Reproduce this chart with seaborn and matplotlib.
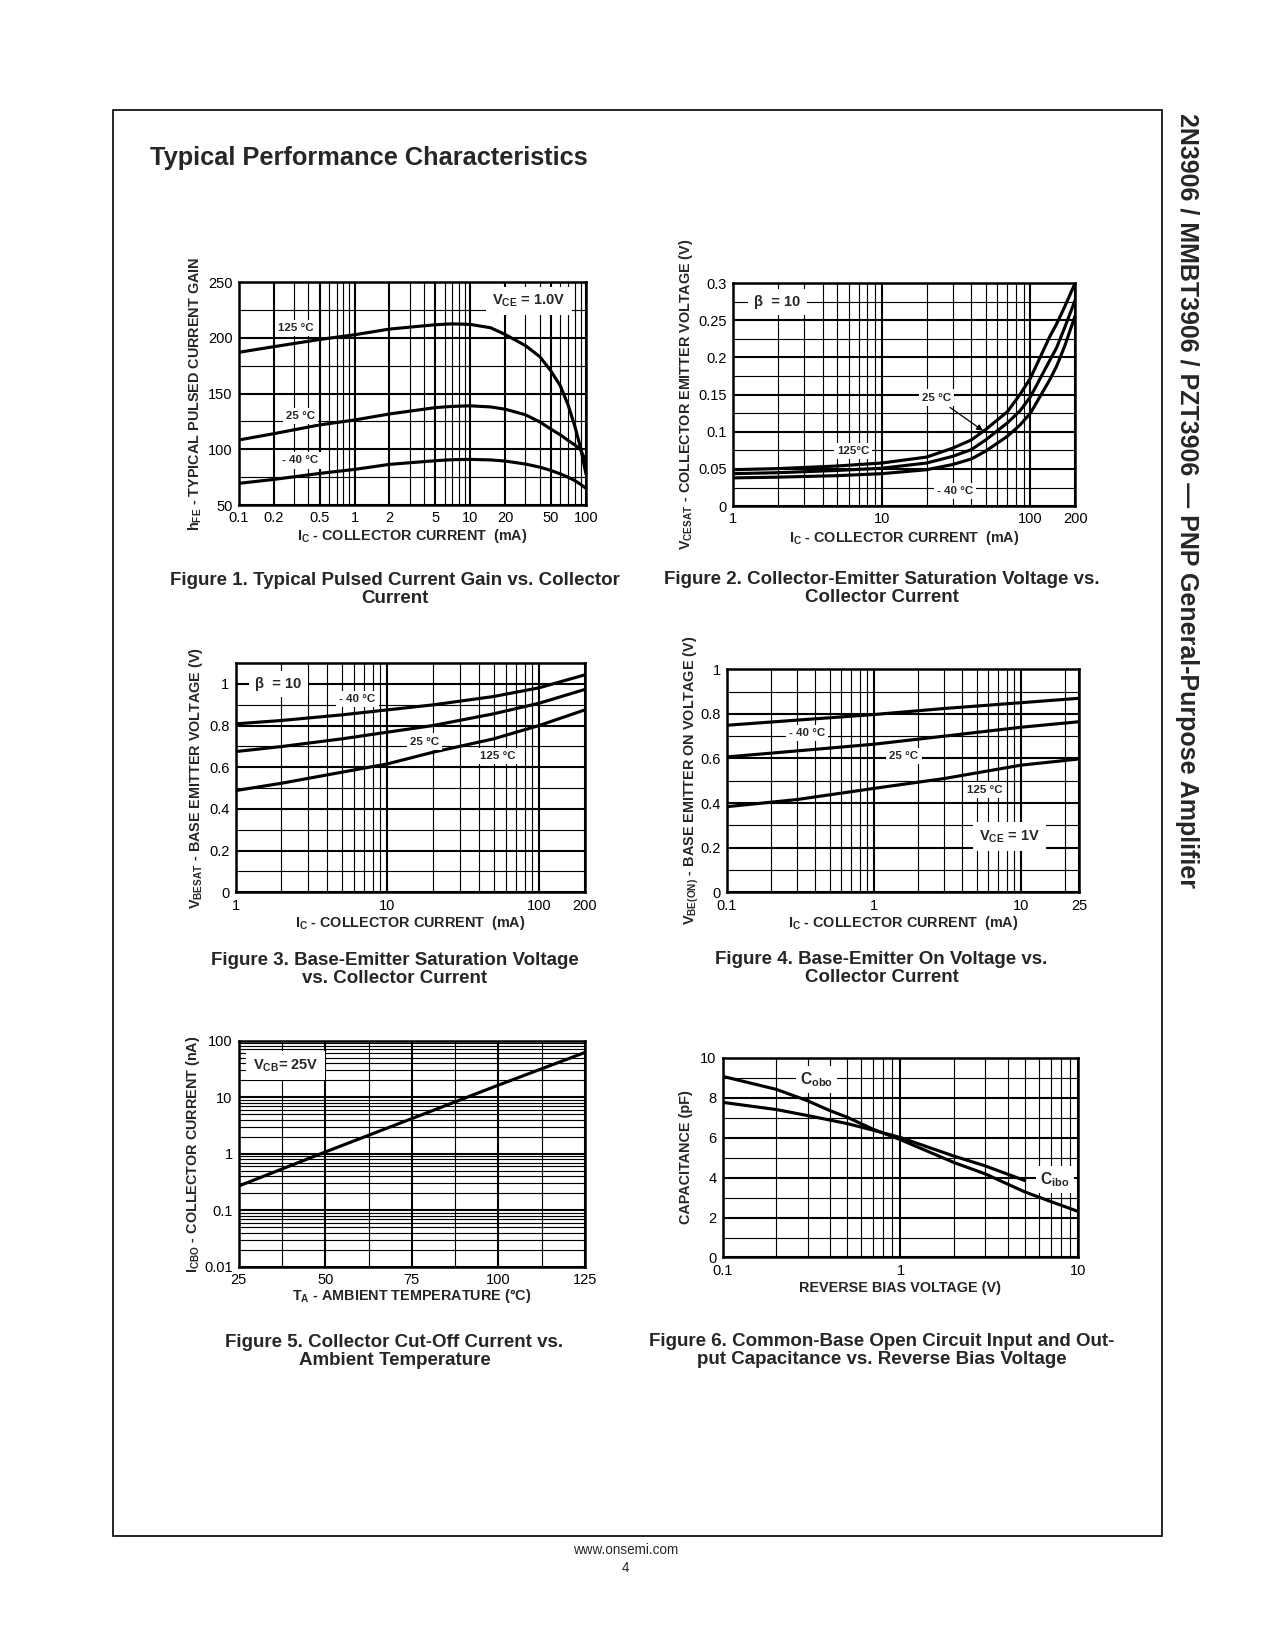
import matplotlib
matplotlib.use('Agg')
import matplotlib.pyplot as plt
import matplotlib.ticker as mticker
import seaborn as sns
import numpy as np

sns.set_style('white')
plt.rcParams['font.family'] = ['Liberation Sans', 'DejaVu Sans']
plt.rcParams['mathtext.fontset'] = 'custom'
plt.rcParams['mathtext.rm'] = 'Liberation Sans:bold'
plt.rcParams['mathtext.bf'] = 'Liberation Sans:bold'
plt.rcParams['mathtext.it'] = 'Liberation Sans:bold'

# ---- data ----
# Figure 1: hFE vs Ic
f1_ic = [0.1, 0.2, 0.5, 1, 2, 5, 7, 10, 15, 20, 30, 40, 50, 60, 70, 80, 90, 100]
f1_125 = [187, 192, 198.5, 202.7, 207.8, 211.7, 212.5, 212, 209, 203, 193, 183, 170, 157, 140, 121, 101, 78]
f1_25 = [108.4, 114, 121.9, 126.3, 131.7, 137.4, 138.5, 139, 138, 136, 131, 124.5, 118, 113, 108, 104, 99.5, 89]
f1_m40 = [69.5, 73, 78.4, 82, 86.5, 89.8, 90.7, 91, 90.5, 89.5, 86.8, 84, 81, 78, 75, 72, 68.6, 65]

# Figure 2: VCEsat vs Ic
f2_ic = [1, 2, 5, 10, 20, 30, 40, 50, 70, 85, 100, 135, 150, 170, 200]
f2_125 = [0.049, 0.0505, 0.054, 0.058, 0.066, 0.078, 0.089, 0.103, 0.127, 0.15, 0.172, 0.228, 0.245, 0.268, 0.30]
f2_25 = [0.0437, 0.045, 0.048, 0.051, 0.058, 0.067, 0.076, 0.089, 0.112, 0.128, 0.147, 0.196, 0.213, 0.24, 0.277]
f2_m40 = [0.038, 0.039, 0.041, 0.0437, 0.049, 0.056, 0.0634, 0.074, 0.094, 0.109, 0.125, 0.17, 0.188, 0.215, 0.256]

# Figure 3: VBEsat vs Ic
f3_ic = [1, 2, 5, 10, 20, 50, 100, 200]
f3_m40 = [0.808, 0.824, 0.851, 0.875, 0.899, 0.939, 0.981, 1.043]
f3_25 = [0.675, 0.699, 0.736, 0.768, 0.80, 0.856, 0.907, 0.973]
f3_125 = [0.488, 0.523, 0.576, 0.616, 0.672, 0.736, 0.80, 0.875]

# Figure 4: VBE(on) vs Ic
f4_ic = [0.1, 0.3, 1, 3, 10, 25]
f4_m40 = [0.749, 0.772, 0.797, 0.824, 0.85, 0.87]
f4_25 = [0.607, 0.634, 0.664, 0.70, 0.74, 0.765]
f4_125 = [0.384, 0.416, 0.466, 0.51, 0.57, 0.598]

# Figure 5: ICBO vs TA
f5_ta = [25, 50, 75, 100, 125]
f5_icbo = [0.27, 1.08, 4.2, 16.4, 62]

# Figure 6: capacitance vs reverse bias
f6_v_obo = [0.1, 0.2, 0.3, 0.4, 0.5, 0.7, 1, 2, 3, 5, 7, 10]
f6_cobo = [9.06, 8.41, 7.84, 7.35, 7.02, 6.42, 5.89, 4.75, 4.18, 3.28, 2.8, 2.3]
f6_v_ibo = [0.1, 0.2, 0.3, 0.5, 0.7, 1, 2, 3, 5]
f6_cibo = [7.76, 7.4, 7.1, 6.7, 6.37, 6.0, 5.07, 4.58, 3.85]

# ---- page layout (coordinates measured on the page) ----
W, H = 1212.0, 1568.0


def box(l, t, r, b):
    return [l / W, 1 - b / H, (r - l) / W, (b - t) / H]


def fx(px):
    return px / W


def fy(py):
    return 1 - py / H


fig = plt.figure(figsize=(8.5, 11), dpi=150, facecolor='white')

# page frame
fig.add_artist(plt.Rectangle((fx(107), fy(1460)), fx(1105) - fx(107), fy(105) - fy(1460),
                             transform=fig.transFigure, fill=False, edgecolor='black', linewidth=0.8))

fig.text(fx(143), fy(150), 'Typical Performance Characteristics', fontsize=12.2,
         fontweight='bold', ha='left', va='center')
fig.text(fx(1128), fy(107), '2N3906 / MMBT3906 / PZT3906 \u2014 PNP General-Purpose Amplifier',
         fontsize=12, fontweight='bold', rotation=270, ha='center', va='top')
fig.text(fx(595), fy(1473), 'www.onsemi.com', fontsize=6.5, ha='center', va='center')
fig.text(fx(595), fy(1490), '4', fontsize=6.5, ha='center', va='center')

LBL = dict(fontsize=5.5, fontweight='bold', ha='center', va='center',
           bbox=dict(facecolor='white', edgecolor='none', pad=1.5))
BIG = dict(fontsize=7, fontweight='bold', ha='center', va='center',
           bbox=dict(facecolor='white', edgecolor='none', pad=3))
CAP = dict(fontsize=7.5, fontweight='bold', ha='center', va='center',
           bbox=dict(facecolor='white', edgecolor='none', pad=2))


def setup(ax, xlim, ylim, xticks, xlabels, yticks, ylabels, yminor,
          xlog=True, ylog=False, xminor=None):
    if xlog:
        ax.set_xscale('log')
    if ylog:
        ax.set_yscale('log')
    ax.set_xlim(*xlim)
    ax.set_ylim(*ylim)
    ax.xaxis.set_major_locator(mticker.FixedLocator(xticks))
    ax.xaxis.set_major_formatter(mticker.FixedFormatter(xlabels))
    if xlog:
        ax.xaxis.set_minor_locator(mticker.LogLocator(base=10, subs=np.arange(2, 10), numticks=20))
    else:
        ax.xaxis.set_minor_locator(mticker.FixedLocator(xminor))
    ax.xaxis.set_minor_formatter(mticker.NullFormatter())
    ax.yaxis.set_major_locator(mticker.FixedLocator(yticks))
    ax.yaxis.set_major_formatter(mticker.FixedFormatter(ylabels))
    if ylog:
        ax.yaxis.set_minor_locator(mticker.LogLocator(base=10, subs=np.arange(2, 10), numticks=20))
    else:
        ax.yaxis.set_minor_locator(mticker.FixedLocator(yminor))
    ax.yaxis.set_minor_formatter(mticker.NullFormatter())
    ax.grid(True, which='major', color='black', linewidth=1.0)
    ax.grid(True, which='minor', color='black', linewidth=0.55)
    ax.tick_params(which='both', length=0, labelsize=7, pad=3, colors='black')
    for s in ax.spines.values():
        s.set_visible(True)
        s.set_color('black')
        s.set_linewidth(1.2)


def labels(ax, xl, yl, xoff, yoff, axw, axh):
    ax.set_xlabel(xl, fontsize=6.9, fontweight='bold')
    ax.set_ylabel(yl, fontsize=6.9, fontweight='bold')
    ax.xaxis.set_label_coords(0.5, -xoff / axh)
    ax.xaxis.label.set_verticalalignment('center')
    ax.yaxis.set_label_coords(-yoff / axw, 0.5)
    ax.yaxis.label.set_verticalalignment('center')


def curve(ax, x, y):
    sns.lineplot(x=x, y=y, ax=ax, color='black', linewidth=1.5, sort=False)


def caption(x, y, l1, l2):
    fig.text(fx(x), fy(y), l1, fontsize=9, fontweight='bold', ha='center', va='center')
    fig.text(fx(x), fy(y + 17), l2, fontsize=9, fontweight='bold', ha='center', va='center')


IC_LABEL = r'I$_{\mathbf{C}}$ - COLLECTOR CURRENT  (mA)'

# ---- Figure 1 ----
ax1 = fig.add_axes(box(227, 268, 557, 480))
setup(ax1, (0.1, 100), (50, 250), [0.1, 0.2, 0.5, 1, 2, 5, 10, 20, 50, 100],
      ['0.1', '0.2', '0.5', '1', '2', '5', '10', '20', '50', '100'],
      [50, 100, 150, 200, 250], ['50', '100', '150', '200', '250'],
      [75, 125, 175, 225])
curve(ax1, f1_ic, f1_125)
curve(ax1, f1_ic, f1_25)
curve(ax1, f1_ic, f1_m40)
ax1.text(0.31, 209, '125 \u00b0C', **LBL)
ax1.text(0.34, 130, '25 \u00b0C', **LBL)
ax1.text(0.34, 90, '- 40 \u00b0C', **LBL)
ax1.text(32, 233, r'V$_{\mathbf{CE}}$ = 1.0V', **BIG)
labels(ax1, IC_LABEL, r'h$_{\mathbf{FE}}$ - TYPICAL PULSED CURRENT GAIN', 29, 41, 330, 212)
caption(375, 552, 'Figure 1. Typical Pulsed Current Gain vs. Collector', 'Current')

# ---- Figure 2 ----
ax2 = fig.add_axes(box(697, 269, 1022, 481))
setup(ax2, (1, 200), (0, 0.3), [1, 10, 100, 200], ['1', '10', '100', '200'],
      [0, 0.05, 0.1, 0.15, 0.2, 0.25, 0.3], ['0', '0.05', '0.1', '0.15', '0.2', '0.25', '0.3'],
      [0.025, 0.075, 0.125, 0.175, 0.225, 0.275])
curve(ax2, f2_ic, f2_125)
curve(ax2, f2_ic, f2_25)
curve(ax2, f2_ic, f2_m40)
ax2.text(1.98, 0.2745, '\u03b2  = 10', **BIG)
ax2.text(6.4, 0.0737, '125\u00b0C', **LBL)
ax2.text(23.4, 0.146, '25 \u00b0C', **LBL)
ax2.text(31, 0.02, '- 40 \u00b0C', **LBL)
ax2.annotate('', xy=(50.6, 0.0982), xytext=(27.3, 0.136),
             arrowprops=dict(arrowstyle='-|>', color='black', linewidth=0.6, mutation_scale=6))
labels(ax2, IC_LABEL, r'V$_{\mathbf{CESAT}}$ - COLLECTOR EMITTER VOLTAGE (V)', 30, 45, 325, 212)
caption(838, 551, 'Figure 2. Collector-Emitter Saturation Voltage vs.', 'Collector Current')

# ---- Figure 3 ----
ax3 = fig.add_axes(box(224, 630, 556, 848))
setup(ax3, (1, 200), (0, 1.1), [1, 10, 100, 200], ['1', '10', '100', '200'],
      [0, 0.2, 0.4, 0.6, 0.8, 1], ['0', '0.2', '0.4', '0.6', '0.8', '1'],
      [0.1, 0.3, 0.5, 0.7, 0.9])
curve(ax3, f3_ic, f3_m40)
curve(ax3, f3_ic, f3_25)
curve(ax3, f3_ic, f3_125)
ax3.text(1.91, 1.0, '\u03b2  = 10', **BIG)
ax3.text(6.35, 0.928, '- 40 \u00b0C', **LBL)
ax3.text(17.6, 0.723, '25 \u00b0C', **LBL)
ax3.text(53.4, 0.653, '125 \u00b0C', **LBL)
labels(ax3, IC_LABEL, r'V$_{\mathbf{BESAT}}$ - BASE EMITTER VOLTAGE (V)', 29, 38, 332, 218)
caption(375, 913, 'Figure 3. Base-Emitter Saturation Voltage', 'vs. Collector Current')

# ---- Figure 4 ----
ax4 = fig.add_axes(box(691, 636, 1026, 848))
setup(ax4, (0.1, 25), (0, 1), [0.1, 1, 10, 25], ['0.1', '1', '10', '25'],
      [0, 0.2, 0.4, 0.6, 0.8, 1], ['0', '0.2', '0.4', '0.6', '0.8', '1'],
      [0.1, 0.3, 0.5, 0.7, 0.9])
curve(ax4, f4_ic, f4_m40)
curve(ax4, f4_ic, f4_25)
curve(ax4, f4_ic, f4_125)
ax4.text(0.351, 0.716, '- 40 \u00b0C', **LBL)
ax4.text(1.6, 0.61, '25 \u00b0C', **LBL)
ax4.text(5.7, 0.458, '125 \u00b0C', **LBL)
ax4.text(8.4, 0.25, r'V$_{\mathbf{CE}}$ = 1V', **BIG)
labels(ax4, IC_LABEL, r'V$_{\mathbf{BE(ON)}}$ - BASE EMITTER ON VOLTAGE (V)', 29, 34, 335, 212)
caption(838, 912, 'Figure 4. Base-Emitter On Voltage vs.', 'Collector Current')

# ---- Figure 5 ----
ax5 = fig.add_axes(box(227, 989, 556, 1204))
setup(ax5, (25, 125), (0.01, 100), [25, 50, 75, 100, 125], ['25', '50', '75', '100', '125'],
      [0.01, 0.1, 1, 10, 100], ['0.01', '0.1', '1', '10', '100'], None,
      xlog=False, ylog=True, xminor=[37.5, 62.5, 87.5, 112.5])
curve(ax5, f5_ta, f5_icbo)
ax5.text(38.5, 36, r'V$_{\mathbf{CB}}$= 25V', **BIG)
labels(ax5, 'T$_{\\mathbf{A}}$ - AMBIENT TEMPERATURE (\u00b0C)',
       r'I$_{\mathbf{CBO}}$ - COLLECTOR CURRENT (nA)', 28, 44, 329, 215)
caption(375, 1276, 'Figure 5. Collector Cut-Off Current vs.', 'Ambient Temperature')

# ---- Figure 6 ----
ax6 = fig.add_axes(box(687, 1005, 1025, 1195))
setup(ax6, (0.1, 10), (0, 10), [0.1, 1, 10], ['0.1', '1', '10'],
      [0, 2, 4, 6, 8, 10], ['0', '2', '4', '6', '8', '10'],
      [1, 3, 5, 7, 9])
curve(ax6, f6_v_obo, f6_cobo)
curve(ax6, f6_v_ibo, f6_cibo)
ax6.text(0.336, 8.9, r'C$_{\mathbf{obo}}$', **CAP)
ax6.text(7.4, 3.9, r'C$_{\mathbf{ibo}}$', **CAP)
labels(ax6, 'REVERSE BIAS VOLTAGE (V)', 'CAPACITANCE (pF)', 29, 35, 338, 190)
caption(838, 1275, 'Figure 6. Common-Base Open Circuit Input and Out-',
        'put Capacitance vs. Reverse Bias Voltage')

fig.savefig('out.png', dpi=150, facecolor='white')
